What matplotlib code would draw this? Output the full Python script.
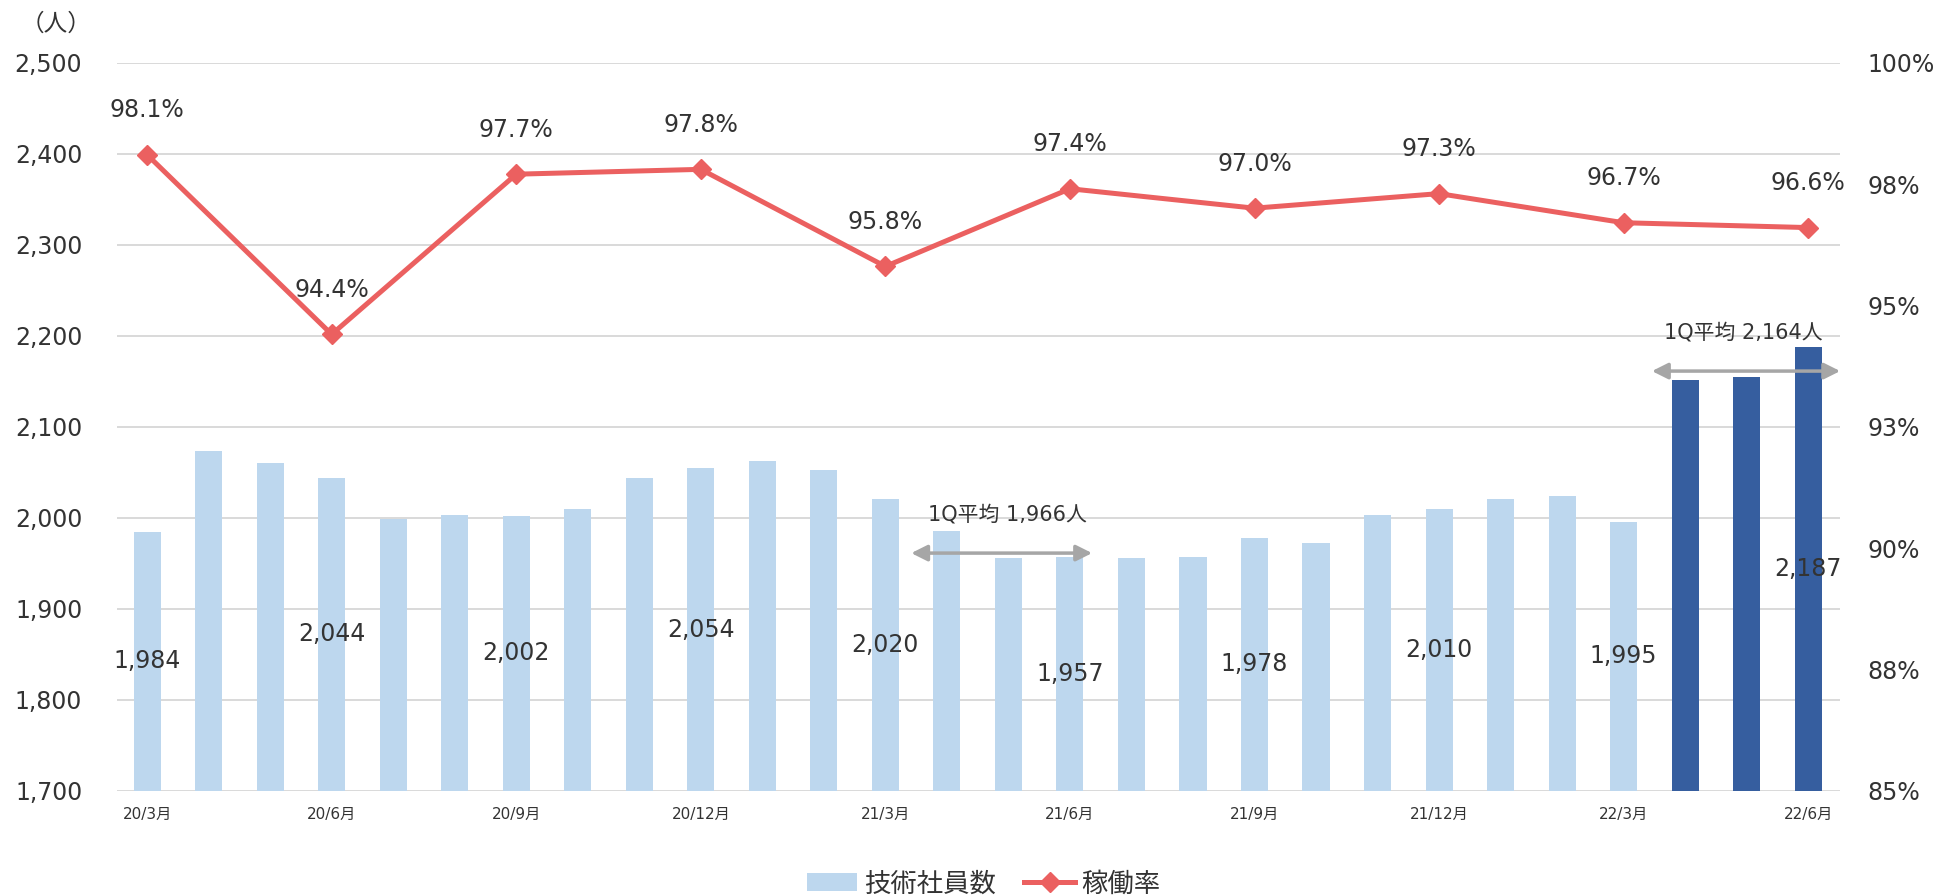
import matplotlib
matplotlib.use("Agg")
import matplotlib.pyplot as plt
from matplotlib.patches import Patch
from matplotlib.lines import Line2D

plt.rcParams["font.family"] = ["DejaVu Sans", "Noto Sans CJK JP"]

# monthly head count, 20/3 .. 22/6
months = [
    "20/3月", "20/4月", "20/5月", "20/6月", "20/7月", "20/8月", "20/9月",
    "20/10月", "20/11月", "20/12月", "21/1月", "21/2月", "21/3月", "21/4月",
    "21/5月", "21/6月", "21/7月", "21/8月", "21/9月", "21/10月", "21/11月",
    "21/12月", "22/1月", "22/2月", "22/3月", "22/4月", "22/5月", "22/6月",
]
engineers = [
    1984, 2073, 2060, 2044, 1999, 2003, 2002, 2010, 2044, 2054, 2062, 2052,
    2020, 1985, 1956, 1957, 1956, 1957, 1978, 1972, 2003, 2010, 2020, 2024,
    1995, 2151, 2154, 2187,
]
# quarterly utilisation rate (%), at 20/3, 20/6, ... 22/6
rate_idx = [0, 3, 6, 9, 12, 15, 18, 21, 24, 27]
rate = [98.1, 94.4, 97.7, 97.8, 95.8, 97.4, 97.0, 97.3, 96.7, 96.6]
n_dark = 3  # latest quarter highlighted

LIGHT = "#BDD7EE"
DARK = "#365E9F"
RED = "#EB6060"
TXT = "#333333"
GRID = "#D9D9D9"
FS = 17

fig = plt.figure(figsize=(19.37, 8.951), dpi=100)
ax = fig.add_axes([0.0604, 0.1166, 0.8893, 0.8134])

x = list(range(len(months)))
n_light = len(months) - n_dark
ax.bar(x[:n_light], engineers[:n_light], width=0.44, color=LIGHT, zorder=2)
ax.bar(x[n_light:], engineers[n_light:], width=0.44, color=DARK, zorder=2)

ax.set_ylim(1700, 2500)
ax.set_xlim(-0.49, 27.51)
ax.set_yticks(range(1700, 2501, 100))
ax.set_yticklabels([f"{v:,}" for v in range(1700, 2501, 100)])
ax.yaxis.grid(True, color=GRID, lw=1.4, zorder=0)
ax.set_axisbelow(True)
for s in ax.spines.values():
    s.set_visible(False)
ax.tick_params(axis="y", length=0, pad=25, labelsize=FS, labelcolor=TXT)
ax.set_xticks(rate_idx)
ax.set_xticklabels([months[i] for i in rate_idx])
ax.tick_params(axis="x", length=0, pad=12, labelsize=11, labelcolor=TXT)

# bar value labels at mid-height of quarterly bars
for i in rate_idx:
    ax.text(i, (1700 + engineers[i]) / 2, f"{engineers[i]:,}",
            ha="center", va="center", fontsize=FS, color=TXT, zorder=4)

# rate line on secondary axis
ax2 = ax.twinx()
ax2.set_ylim(85, 100)
ax2.set_xlim(ax.get_xlim())
ax2.plot(rate_idx, rate, color=RED, lw=3.6, marker="D", markersize=10,
         zorder=5)
ax2.set_yticks([85, 87.5, 90, 92.5, 95, 97.5, 100])
ax2.set_yticklabels(["85%", "88%", "90%", "93%", "95%", "98%", "100%"])
ax2.tick_params(axis="y", length=0, pad=20, labelsize=FS, labelcolor=TXT)
for s in ax2.spines.values():
    s.set_visible(False)
for i, r in zip(rate_idx, rate):
    ax2.annotate(f"{r:.1f}%", (i, r), xytext=(0, 32), textcoords="offset points",
                 ha="center", va="center", fontsize=FS, color=TXT)

# quarter average arrows
arrow = dict(arrowstyle="<|-|>", color="#A6A6A6", lw=2.5, mutation_scale=24,
             shrinkA=0, shrinkB=0)
ax.annotate("", xy=(12.42, 1961), xytext=(15.36, 1961), arrowprops=arrow,
            zorder=6)
ax.text(13.98, 2003, "1Q平均 1,966人", ha="center", va="center",
        fontsize=15, color=TXT)
ax.annotate("", xy=(24.46, 2161), xytext=(27.52, 2161), arrowprops=arrow,
            zorder=6, annotation_clip=False)
ax.text(25.94, 2203, "1Q平均 2,164人", ha="center", va="center",
        fontsize=15, color=TXT)

fig.text(0.029, 0.974, "（人）", ha="center", va="center", fontsize=FS,
         color=TXT)

handles = [
    Patch(facecolor=LIGHT, edgecolor="none"),
    Line2D([0], [0], color=RED, lw=3.6, marker="D", markersize=10),
]
fig.legend(handles, ["技術社員数", "稼働率"], loc="center",
           bbox_to_anchor=(0.5078, 0.012), ncol=2, frameon=False,
           fontsize=19, handlelength=1.9, handletextpad=0.25,
           columnspacing=1.1, labelcolor=TXT)

fig.savefig("out.png", dpi=100)
